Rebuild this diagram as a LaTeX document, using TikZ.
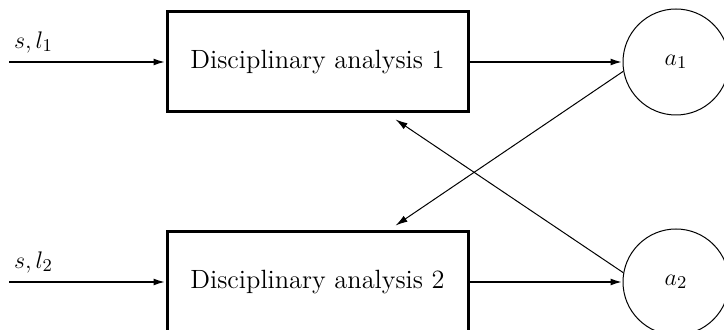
\documentclass[tikz,border=0pt]{standalone}
\usetikzlibrary{positioning, arrows.meta, calc}

\begin{document}
\begin{tikzpicture}[
        x=0.5pt, y=-0.5pt,
        every node/.style={font=\fontsize{13.2}{15}\selectfont},
        analysis/.style={rectangle, draw, line width=1.5pt, minimum width=150.5pt, minimum height=50pt, inner sep=0pt},
        var/.style={circle, draw, line width=0.5pt, minimum size=53pt, inner sep=0pt},
        arrow/.style={line width=1pt, -{Latex[length=6pt,width=3.5pt]}},
        link/.style={line width=0.5pt, -{Latex[length=6pt,width=3.5pt]}}
    ]
    \useasboundingbox (0,0) rectangle (724,330);
    \node[analysis] (dis1) at (317.5,62) {Disciplinary analysis 1};
    \node[analysis] (dis2) at (317.5,282) {Disciplinary analysis 2};
    \node[var] (a1) at (676,62) {$a_1$};
    \node[var] (a2) at (676,282) {$a_2$};

    \coordinate (in1) at (9,62);
    \coordinate (in2) at (9,282);
    \node[above right=1pt and -1pt of in1] (lab1) {$s,l_1$};
    \node[above right=1pt and -1pt of in2] (lab2) {$s,l_2$};

    \draw[arrow] (in1) -- (dis1);
    \draw[arrow] (in2) -- (dis2);
    \draw[arrow] (dis1) -- (a1);
    \draw[arrow] (dis2) -- (a2);
    \draw[link] (a1.190) -- ($(dis2.north west)!0.757!(dis2.north east)+(0,-5)$);
    \draw[link] (a2.170) -- ($(dis1.south west)!0.757!(dis1.south east)+(0,6)$);
\end{tikzpicture}
\end{document}
